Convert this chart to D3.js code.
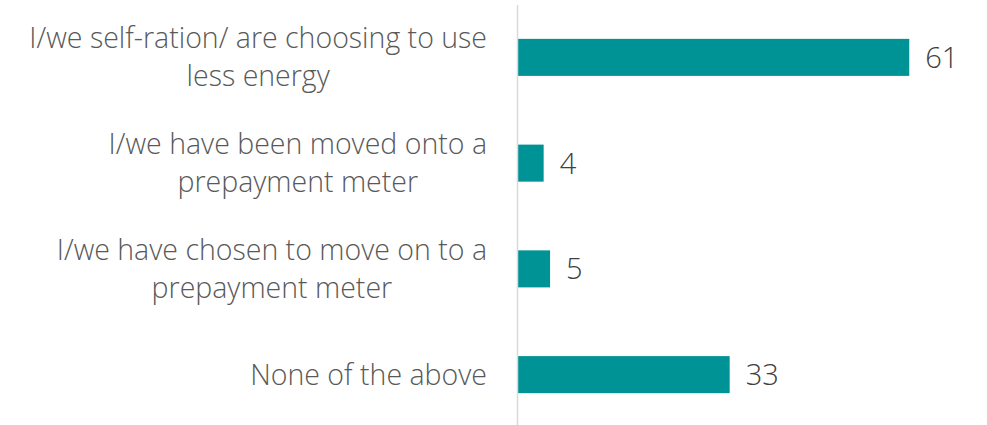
<!DOCTYPE html>
<html>
<head>
<meta charset="utf-8">
<script src="https://cdn.jsdelivr.net/npm/d3@7"></script>
<style>
  html, body { margin: 0; padding: 0; background: #ffffff; }
  svg { display: block; }
  text { font-family: "Open Sans", "Noto Sans", sans-serif; font-weight: 300; }
</style>
</head>
<body>
<svg id="chart" width="987" height="425"></svg>
<script>
// Survey responses: share of respondents (%)
const categories = [
  ["I/we self-ration/ are choosing to use", "less energy"],
  ["I/we have been moved onto a", "prepayment meter"],
  ["I/we have chosen to move on to a", "prepayment meter"],
  ["None of the above"]
];
const values = [61, 4, 5, 33];

const svg = d3.select("#chart");

const y = d3.scaleBand()
  .domain(d3.range(categories.length))
  .range([4.5, 427.5])
  .paddingInner(0.65)
  .paddingOuter(0.325);

const x = d3.scaleLinear().domain([0, 70]).range([518, 967]);

// bars
svg.append("g").selectAll("rect")
  .data(values)
  .join("rect")
  .attr("x", x(0))
  .attr("y", (d, i) => y(i))
  .attr("width", d => x(d) - x(0))
  .attr("height", y.bandwidth())
  .attr("fill", "#009396");

// vertical category axis line
svg.append("line")
  .attr("x1", x(0) - 0.5).attr("x2", x(0) - 0.5)
  .attr("y1", 5).attr("y2", 425)
  .attr("stroke", "#d9d9d9")
  .attr("stroke-width", 1.5);

// value labels
svg.append("g").selectAll("text")
  .data(values)
  .join("text")
  .attr("x", d => x(d) + 16)
  .attr("y", (d, i) => y(i) + y.bandwidth() / 2)
  .attr("dy", "0.36em")
  .attr("font-size", 29)
  .attr("fill", "#404040")
  .text(d => d);

// category labels: lines centred on each other, block right-aligned to the axis
const labelRight = 487;
const lineGap = 38;
const labels = svg.append("g").selectAll("text")
  .data(categories)
  .join("text")
  .attr("text-anchor", "middle")
  .attr("font-size", 28.5)
  .attr("fill", "#595959");

labels.each(function(lines, i) {
  const cy = y(i) + y.bandwidth() / 2;
  const top = cy - (lines.length - 1) * lineGap / 2;
  const g = d3.select(this);
  const spans = g.selectAll("tspan")
    .data(lines)
    .join("tspan")
    .attr("y", (d, j) => top + j * lineGap)
    .attr("dy", "0.35em")
    .text(d => d);
  let maxW = 0;
  spans.each(function() { maxW = Math.max(maxW, this.getComputedTextLength()); });
  spans.attr("x", labelRight - maxW / 2);
});
</script>
</body>
</html>
